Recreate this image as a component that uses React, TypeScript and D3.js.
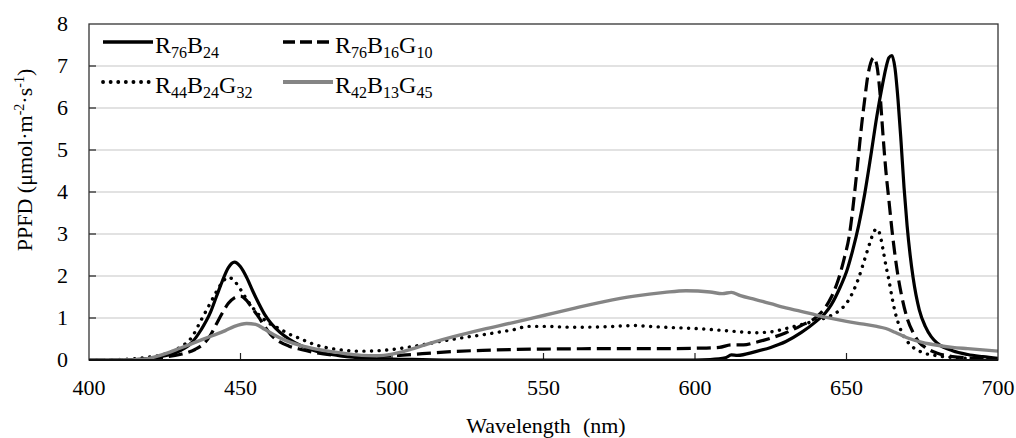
import React from "react";
import * as d3 from "d3";

type Pt = [number, number];

const xTicks = [400, 450, 500, 550, 600, 650, 700];
const yTicks = [0, 1, 2, 3, 4, 5, 6, 7, 8];

const r76b24: Pt[] = [[400,0],[410,0],[415,0.01],[420,0.04],[425,0.1],[430,0.22],[434,0.42],[437,0.72],[440,1.12],[442,1.5],[444,1.88],[446,2.2],[448,2.33],[450,2.22],[452,1.97],[454,1.65],[456,1.35],[458,1.08],[460,0.88],[463,0.66],[466,0.5],[470,0.34],[475,0.21],[480,0.13],[485,0.08],[490,0.05],[500,0.02],[510,0.01],[520,0],[600,0],[605,0.01],[610,0.05],[612,0.12],[614,0.11],[620,0.2],[625,0.3],[630,0.44],[635,0.65],[640,0.92],[643,1.12],[645,1.32],[648,1.75],[650,2.1],[652,2.6],[654,3.2],[656,3.95],[658,4.85],[660,5.8],[662,6.6],[663,6.95],[664,7.2],[665,7.25],[666,6.95],[667,6.2],[668,5.2],[669,4.1],[670,3.2],[671,2.5],[672,1.95],[674,1.2],[676,0.8],[678,0.55],[680,0.4],[685,0.22],[690,0.13],[695,0.08],[700,0.04]];

const r76b16g10: Pt[] = [[400,0],[415,0],[420,0.03],[425,0.07],[430,0.13],[435,0.25],[438,0.4],[440,0.58],[442,0.85],[444,1.12],[446,1.35],[448,1.48],[450,1.52],[452,1.42],[454,1.22],[456,1.02],[458,0.8],[460,0.6],[463,0.43],[466,0.33],[470,0.25],[475,0.17],[480,0.12],[490,0.08],[500,0.1],[510,0.15],[520,0.2],[530,0.23],[540,0.25],[550,0.26],[570,0.27],[590,0.27],[600,0.28],[608,0.3],[612,0.36],[616,0.36],[620,0.42],[625,0.52],[630,0.65],[635,0.82],[640,1.02],[643,1.25],[645,1.5],[647,1.85],[649,2.35],[651,3.0],[653,4.2],[654,4.9],[655,5.6],[656,6.2],[657,6.75],[658,7.08],[659,7.2],[660,7.02],[661,6.4],[662,5.4],[663,4.5],[664,3.8],[665,3.1],[666,2.5],[667,2.0],[668,1.6],[670,1.0],[672,0.65],[674,0.42],[676,0.3],[680,0.16],[685,0.08],[690,0.05],[700,0.02]];

const r44b24g32: Pt[] = [[400,0],[410,0.01],[415,0.03],[420,0.07],[425,0.14],[430,0.3],[434,0.55],[437,0.95],[440,1.35],[442,1.62],[444,1.85],[446,1.97],[448,1.88],[450,1.68],[452,1.45],[454,1.25],[456,1.08],[458,0.95],[460,0.85],[463,0.74],[466,0.62],[470,0.5],[474,0.38],[478,0.3],[482,0.25],[486,0.22],[490,0.21],[495,0.22],[500,0.25],[505,0.3],[510,0.36],[515,0.43],[520,0.49],[525,0.55],[530,0.6],[535,0.66],[540,0.72],[545,0.8],[550,0.8],[560,0.78],[570,0.79],[580,0.82],[585,0.8],[590,0.78],[600,0.75],[610,0.7],[615,0.67],[620,0.65],[625,0.67],[630,0.75],[635,0.84],[640,0.94],[645,1.06],[648,1.2],[650,1.35],[652,1.6],[654,1.95],[656,2.4],[658,2.85],[659,3.05],[660,3.12],[661,3.0],[662,2.65],[663,2.25],[664,1.9],[665,1.5],[666,1.15],[667,0.9],[668,0.7],[670,0.45],[672,0.3],[675,0.18],[680,0.1],[685,0.06],[690,0.04],[700,0.02]];

const r42b13g45: Pt[] = [[400,0],[410,0],[418,0.02],[422,0.08],[426,0.17],[430,0.28],[435,0.42],[440,0.56],[445,0.7],[448,0.8],[452,0.87],[455,0.85],[458,0.73],[461,0.6],[465,0.46],[470,0.34],[475,0.26],[480,0.2],[485,0.15],[490,0.11],[495,0.1],[500,0.14],[505,0.23],[510,0.34],[515,0.45],[520,0.55],[530,0.73],[540,0.89],[550,1.06],[560,1.23],[570,1.39],[580,1.52],[590,1.61],[597,1.65],[605,1.62],[609,1.58],[612,1.61],[615,1.53],[620,1.44],[625,1.34],[630,1.24],[635,1.16],[640,1.07],[645,0.99],[650,0.92],[655,0.86],[660,0.8],[663,0.75],[666,0.66],[670,0.53],[675,0.42],[680,0.35],[685,0.3],[690,0.27],[695,0.24],[700,0.21]];

const FONT = '"Liberation Serif", "Times New Roman", serif';

type SeriesDef = { data: Pt[]; color: string; dash?: string; cap: "butt" | "round"; width: number; label: [string, string][] };

const series: SeriesDef[] = [
  { data: r76b24, color: "#000", cap: "butt", width: 3.2, label: [["R", "76"], ["B", "24"]] },
  { data: r76b16g10, color: "#000", dash: "14 6", cap: "butt", width: 3.2, label: [["R", "76"], ["B", "16"], ["G", "10"]] },
  { data: r44b24g32, color: "#000", dash: "0.1 7.5", cap: "round", width: 3.4, label: [["R", "44"], ["B", "24"], ["G", "32"]] },
  { data: r42b13g45, color: "#858585", cap: "butt", width: 3.4, label: [["R", "42"], ["B", "13"], ["G", "45"]] },
];

const L = 89, R = 998, T = 24, B = 360;

export default function App() {
  const x = d3.scaleLinear().domain([400, 700]).range([L, R]);
  const y = d3.scaleLinear().domain([0, 8]).range([B, T]);
  const line = d3.line<Pt>().x(d => x(d[0])).y(d => y(d[1])).curve(d3.curveMonotoneX);

  const legendPos = [
    { lx: 103, ly: 42 },
    { lx: 283, ly: 42 },
    { lx: 103, ly: 82 },
    { lx: 283, ly: 82 },
  ];

  return (
    <svg width={1016} height={438} style={{ position: "absolute", left: 0, top: 0, background: "#fff" }} fontFamily={FONT}>
      <rect x={0} y={0} width={1016} height={438} fill="#fff" />
      {yTicks.filter(t => t > 0 && t < 8).map(t => (
        <line key={"g" + t} x1={L} x2={R} y1={y(t)} y2={y(t)} stroke="#d9d9d9" strokeWidth={1.5} />
      ))}
      {yTicks.filter(t => t > 0 && t < 8).map(t => (
        <line key={"yt" + t} x1={L} x2={L + 7} y1={y(t)} y2={y(t)} stroke="#222" strokeWidth={1.2} />
      ))}
      {xTicks.filter(t => t > 400 && t < 700).map(t => (
        <line key={"xt" + t} x1={x(t)} x2={x(t)} y1={B} y2={B - 7} stroke="#222" strokeWidth={1.2} />
      ))}
      <defs>
        <clipPath id="plotclip">
          <rect x={L} y={T} width={R - L} height={B - T} />
        </clipPath>
      </defs>
      <g clipPath="url(#plotclip)">
        {series.map((s, i) => (
          <path key={"s" + i} d={line(s.data) || ""} fill="none" stroke={s.color} strokeWidth={s.width}
            strokeDasharray={s.dash} strokeLinecap={s.cap} strokeLinejoin="round" />
        ))}
      </g>
      <rect x={L} y={T} width={R - L} height={B - T} fill="none" stroke="#333" strokeWidth={1.3} />
      <line x1={L} x2={R} y1={B} y2={B} stroke="#111" strokeWidth={1.8} />
      {yTicks.map(t => (
        <text key={"yl" + t} x={68} y={y(t) + 7} textAnchor="end" fontSize={22} fill="#000">{String(t)}</text>
      ))}
      {xTicks.map(t => (
        <text key={"xl" + t} x={x(t)} y={395} textAnchor="middle" fontSize={22} fill="#000">{String(t)}</text>
      ))}
      <text x={546} y={433} textAnchor="middle" fontSize={22} fill="#000">
        <tspan>Wavelength</tspan><tspan dx={12}>(nm)</tspan>
      </text>
      <text transform="translate(32,160) rotate(-90)" textAnchor="middle" fontSize={22} fill="#000">
        <tspan>PPFD (μmol·m</tspan>
        <tspan dy={-8} fontSize={14}>-2</tspan>
        <tspan dy={8}>·s</tspan>
        <tspan dy={-8} fontSize={14}>-1</tspan>
        <tspan dy={8}>)</tspan>
      </text>
      {series.map((s, i) => {
        const p = legendPos[i];
        return (
          <g key={"lg" + i}>
            <line x1={p.lx} x2={p.lx + 50} y1={p.ly} y2={p.ly} stroke={s.color} strokeWidth={s.width + 0.4}
              strokeDasharray={s.dash === "14 6" ? "12 5" : s.dash} strokeLinecap={s.cap} />
            <text x={p.lx + 52} y={p.ly + 11} fontSize={24} fill="#000">
              {s.label.map(([a, b], j) => (
                <React.Fragment key={j}>
                  <tspan dy={j === 0 ? 0 : -5}>{a}</tspan>
                  <tspan dy={5} fontSize={16}>{b}</tspan>
                </React.Fragment>
              ))}
            </text>
          </g>
        );
      })}
    </svg>
  );
}
